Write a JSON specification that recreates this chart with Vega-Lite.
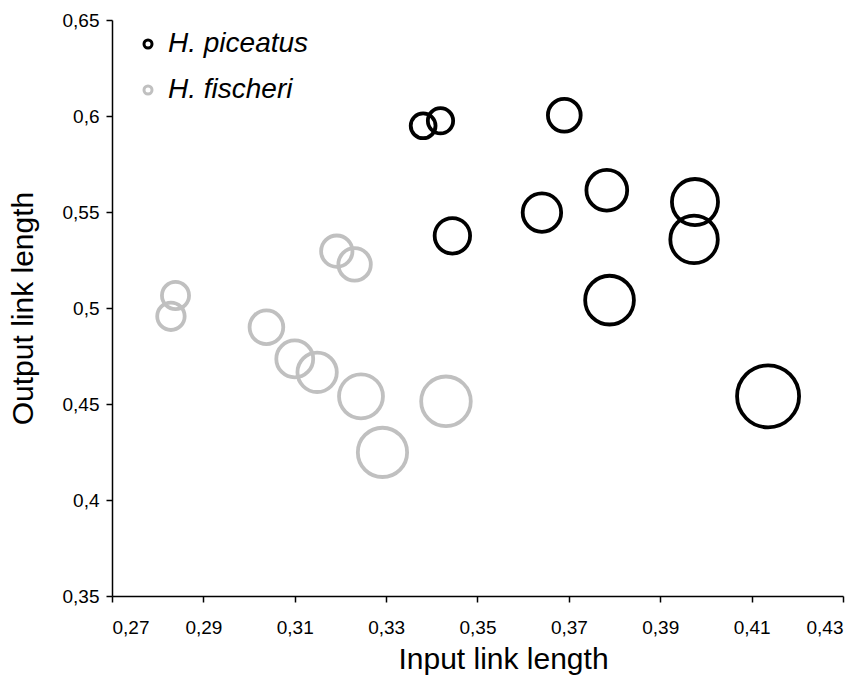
{
  "$schema": "https://vega.github.io/schema/vega-lite/v6.json",
  "width": 731,
  "height": 576,
  "autosize": "none",
  "padding": {"left": 112, "top": 20, "right": 22, "bottom": 83},
  "background": "white",
  "config": {
    "view": {"stroke": null},
    "font": "Liberation Sans"
  },
  "data": {
    "values": [
      {"species": "H. fischeri", "input": 0.2839, "output": 0.5065, "m": 2.34},
      {"species": "H. fischeri", "input": 0.2829, "output": 0.4957, "m": 2.40},
      {"species": "H. fischeri", "input": 0.3192, "output": 0.5296, "m": 3.13},
      {"species": "H. fischeri", "input": 0.3231, "output": 0.5227, "m": 3.35},
      {"species": "H. fischeri", "input": 0.3038, "output": 0.4900, "m": 3.61},
      {"species": "H. fischeri", "input": 0.3100, "output": 0.4735, "m": 4.33},
      {"species": "H. fischeri", "input": 0.3149, "output": 0.4665, "m": 4.93},
      {"species": "H. fischeri", "input": 0.3245, "output": 0.4540, "m": 6.15},
      {"species": "H. fischeri", "input": 0.3431, "output": 0.4514, "m": 7.84},
      {"species": "H. fischeri", "input": 0.3292, "output": 0.4248, "m": 7.73},
      {"species": "H. piceatus", "input": 0.3381, "output": 0.5949, "m": 1.96},
      {"species": "H. piceatus", "input": 0.3419, "output": 0.5975, "m": 2.04},
      {"species": "H. piceatus", "input": 0.3690, "output": 0.6004, "m": 3.42},
      {"species": "H. piceatus", "input": 0.3445, "output": 0.5376, "m": 4.00},
      {"species": "H. piceatus", "input": 0.3641, "output": 0.5497, "m": 4.71},
      {"species": "H. piceatus", "input": 0.3783, "output": 0.5613, "m": 5.29},
      {"species": "H. piceatus", "input": 0.3976, "output": 0.5552, "m": 6.76},
      {"species": "H. piceatus", "input": 0.3974, "output": 0.5357, "m": 7.18},
      {"species": "H. piceatus", "input": 0.3789, "output": 0.5041, "m": 7.56},
      {"species": "H. piceatus", "input": 0.4136, "output": 0.4540, "m": 12.25}
    ]
  },
  "mark": {"type": "point", "shape": "circle", "filled": false, "strokeWidth": 3.8, "opacity": 1},
  "encoding": {
    "x": {
      "field": "input", "type": "quantitative",
      "scale": {"domain": [0.27, 0.43], "nice": false, "zero": false},
      "axis": {
        "title": "Input link length",
        "values": [0.27, 0.29, 0.31, 0.33, 0.35, 0.37, 0.39, 0.41, 0.43],
        "labelExpr": "replace(toString(datum.value), '.', ',')",
        "grid": false,
        "domainColor": "#000000", "domainWidth": 1.5,
        "tickColor": "#000000", "tickWidth": 1.5, "tickSize": 6,
        "labelColor": "#000000", "labelFontSize": 19, "labelPadding": 16,
        "labelFont": "Liberation Sans",
        "titleFont": "Liberation Sans", "titleFontSize": 30, "titleFontWeight": "normal",
        "titleColor": "#000000",
        "titleX": 391, "titleY": 72, "titleBaseline": "alphabetic", "titleAlign": "center"
      }
    },
    "y": {
      "field": "output", "type": "quantitative",
      "scale": {"domain": [0.35, 0.65], "nice": false, "zero": false},
      "axis": {
        "title": "Output link length",
        "values": [0.35, 0.4, 0.45, 0.5, 0.55, 0.6, 0.65],
        "labelExpr": "replace(toString(datum.value), '.', ',')",
        "grid": false,
        "domainColor": "#000000", "domainWidth": 1.5,
        "tickColor": "#000000", "tickWidth": 1.5, "tickSize": 6,
        "labelColor": "#000000", "labelFontSize": 19, "labelPadding": 7,
        "labelFont": "Liberation Sans",
        "titleFont": "Liberation Sans", "titleFontSize": 30, "titleFontWeight": "normal",
        "titleColor": "#000000",
        "titleX": -89, "titleY": 288, "titleAngle": -90, "titleBaseline": "middle", "titleAlign": "center"
      }
    },
    "color": {
      "field": "species", "type": "nominal",
      "scale": {"domain": ["H. piceatus", "H. fischeri"], "range": ["#000000", "#c0c0c0"]},
      "legend": {
        "title": null,
        "orient": "none",
        "legendX": 22,
        "legendY": 10,
        "padding": 0,
        "symbolType": "circle",
        "symbolSize": 64,
        "symbolStrokeWidth": 3,
        "symbolFillColor": "transparent",
        "labelFont": "Liberation Sans",
        "labelFontSize": 28,
        "labelFontStyle": "italic",
        "labelColor": "#000000",
        "labelOffset": 6,
        "rowPadding": 18,
        "labelLimit": 300
      }
    },
    "size": {
      "field": "m", "type": "quantitative",
      "scale": {"domain": [0, 15], "range": [0, 4712]},
      "legend": null
    }
  }
}
